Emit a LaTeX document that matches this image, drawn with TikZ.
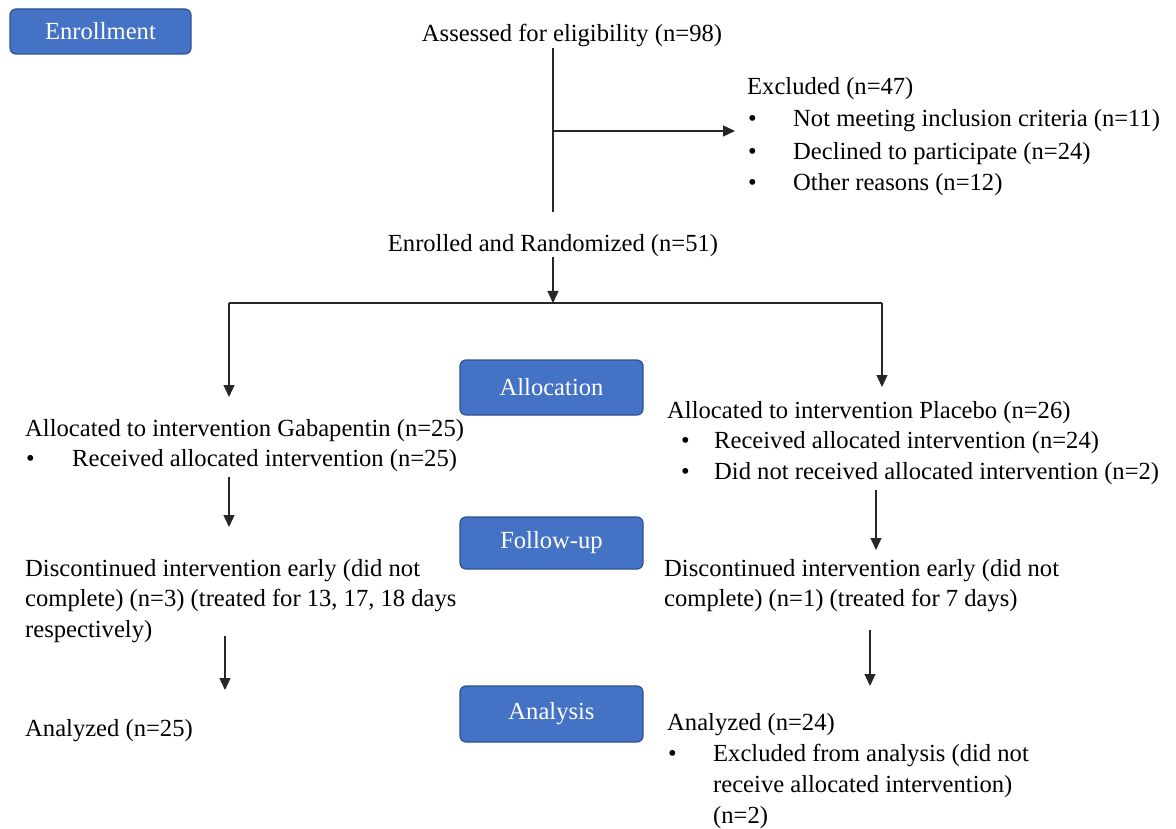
\documentclass[tikz,border=0pt]{standalone}
\usepackage{fontspec}
\setmainfont{Liberation Serif}
\usetikzlibrary{arrows.meta}
\definecolor{phasefill}{HTML}{4472C4}
\definecolor{phaseline}{HTML}{2F528F}
\newcommand{\fsz}{\fontsize{24.6}{30.5}\selectfont}
\newcommand{\bul}[2]{\makebox[#2][l]{\hspace*{#1}\textbullet}}
\tikzset{
  phase/.style={draw=phaseline, fill=phasefill, line width=1.2pt, rounded corners=6pt,
    minimum width=183pt, text=white, font=\fsz, inner sep=0pt},
  txt/.style={inner sep=0pt, align=left, anchor=north west, font=\fsz},
  ln/.style={draw=black!85, line width=1.3pt},
  arr/.style={ln, -{Triangle[length=12pt,width=11pt]}},
}

\begin{document}
\begin{tikzpicture}[x=1pt,y=-1pt]
  \useasboundingbox (0,0) rectangle (1176,829);
  % phase labels
  \node[phase, minimum width=181pt, minimum height=45pt] (enrol) at (100.5,31.5) {Enrollment};
  \node[phase, minimum height=55pt] (alloc) at (551.5,387.5) {Allocation};
  \node[phase, minimum height=52pt] (follow) at (551.5,543) {Follow-up};
  \node[phase, minimum height=56pt] (anal) at (551.5,714) {Analysis};

  % enrollment
  \node[txt, anchor=base] (assess) at (572,42) {Assessed for eligibility (n=98)};
  \node[txt] (excl) at (747,77) {Excluded (n=47)\\[2pt]
    \bul{1pt}{46pt}Not meeting inclusion criteria (n=11)\\[2pt]
    \bul{1pt}{46pt}Declined to participate (n=24)\\[1pt]
    \bul{1pt}{46pt}Other reasons (n=12)};
  \node[txt, anchor=base] (enrl) at (553,252) {Enrolled and Randomized (n=51)};

  % allocation
  \node[txt] (gab) at (25,419) {Allocated to intervention Gabapentin (n=25)\\
    \bul{1pt}{47pt}Received allocated intervention (n=25)};
  \node[txt] (plc) at (667,401) {Allocated to intervention Placebo (n=26)\\
    \bul{14pt}{47pt}Received allocated intervention (n=24)\\
    \bul{14pt}{47pt}Did not received allocated intervention (n=2)};

  % follow-up
  \node[txt] (gabdisc) at (25,559) {Discontinued intervention early (did not\\
    complete) (n=3) (treated for 13, 17, 18 days\\
    respectively)};
  \node[txt] (plcdisc) at (664,559) {Discontinued intervention early (did not\\
    complete) (n=1) (treated for 7 days)};

  % analysis
  \node[txt, anchor=base west] (gabana) at (25,736) {Analyzed (n=25)};
  \node[txt] (plcana) at (667,713) {Analyzed (n=24)\\[1pt]
    \bul{1pt}{46pt}Excluded from analysis (did not\\[0.5pt]
    \hspace*{46pt}receive allocated intervention)\\
    \hspace*{46pt}(n=2)};

  % connectors
  \coordinate (trunk) at (553,212);
  \coordinate (exclin) at (553,131);
  \coordinate (split) at (553,303);
  \coordinate (gabtop) at (229,303);
  \coordinate (plctop) at (882,303);
  \draw[ln] (assess.south -| trunk) -- (trunk);
  \draw[arr] (exclin) -- ([xshift=-12pt]exclin -| excl.west);
  \draw[arr] (enrl) -- (split);
  \draw[ln] (gabtop) -- (plctop);
  \draw[arr] (gabtop) -- ++(0,94);
  \draw[arr] (plctop) -- ++(0,84);
  \draw[arr] (229,477) -- (229,527);
  \draw[arr] (876,490) -- (876,550);
  \draw[arr] (225,636) -- (225,690);
  \draw[arr] (870,630) -- (870,686);
\end{tikzpicture}
\end{document}
